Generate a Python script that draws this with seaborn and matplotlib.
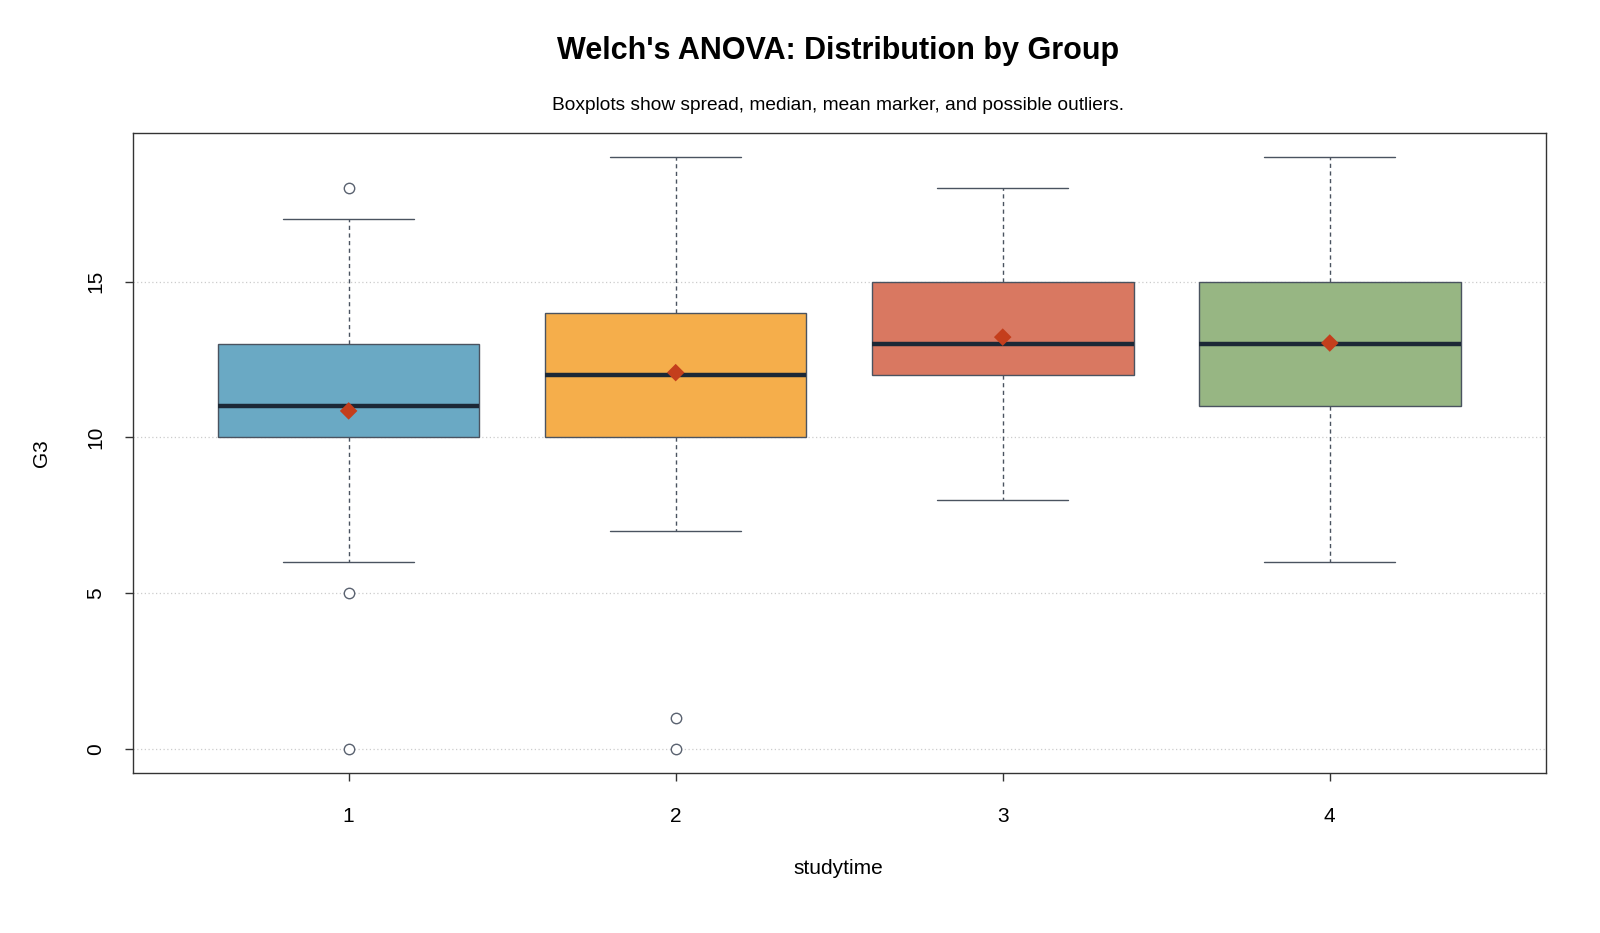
import matplotlib
matplotlib.use("Agg")
import matplotlib.pyplot as plt
import seaborn as sns

# summary stats, one entry per studytime group
groups = ["1", "2", "3", "4"]
q1 = [10, 10, 12, 11]
medians = [11, 12, 13, 13]
q3 = [13, 14, 15, 15]
whisk_lo = [6, 7, 8, 6]
whisk_hi = [17, 19, 18, 19]
means = [10.85, 12.08, 13.22, 13.03]
outliers = [[18, 5, 0], [1, 0], [], []]
colors = ["#6AA9C4", "#F5AE4B", "#D97861", "#97B683"]


def main():
    sns.set_theme(style="white")
    plt.rcParams["font.family"] = ["Liberation Sans", "DejaVu Sans"]
    plt.rcParams["text.color"] = "black"
    plt.rcParams["xtick.color"] = "black"
    plt.rcParams["ytick.color"] = "black"

    fig = plt.figure(figsize=(16, 9.33), dpi=100)
    ax = fig.add_axes([0.083, 0.172, 0.883, 0.685])

    stats = []
    for i, g in enumerate(groups):
        stats.append(dict(label=g, q1=q1[i], med=medians[i], q3=q3[i],
                          whislo=whisk_lo[i], whishi=whisk_hi[i],
                          mean=means[i], fliers=outliers[i]))

    edge = "#4A5360"
    bp = ax.bxp(stats, positions=range(len(groups)), widths=0.8,
                patch_artist=True, showmeans=False,
                boxprops=dict(edgecolor=edge, linewidth=1),
                whiskerprops=dict(color=edge, linewidth=1, linestyle=(0, (3, 2.5))),
                capprops=dict(color=edge, linewidth=1),
                capwidths=0.4,
                medianprops=dict(color="#1C2836", linewidth=3.2),
                flierprops=dict(marker="o", markerfacecolor="white",
                                markeredgecolor="#5A6270", markersize=7.5,
                                markeredgewidth=1))
    for patch, c in zip(bp["boxes"], colors):
        patch.set_facecolor(c)
        patch.set_zorder(2)

    sns.scatterplot(x=list(range(len(groups))), y=means, marker="D",
                    color="#C43E1C", s=80, edgecolor="none", zorder=5, ax=ax)

    ax.set_xlim(-0.66, 3.66)
    ax.set_ylim(-0.76, 19.76)
    ax.set_yticks([0, 5, 10, 15])
    ax.set_xticks(range(len(groups)))
    ax.set_xticklabels(groups)
    ax.yaxis.grid(True, linestyle=(0, (1, 2)), color="#CCCCCC", linewidth=0.9)
    ax.set_axisbelow(True)

    for s in ax.spines.values():
        s.set_color("#333333")
        s.set_linewidth(1)
    ax.tick_params(axis="both", length=6, width=1, color="#333333",
                   labelsize=15, labelcolor="black", direction="out",
                   bottom=True, left=True)
    ax.tick_params(axis="x", pad=19)
    ax.tick_params(axis="y", pad=14)
    for lab in ax.get_yticklabels():
        lab.set_rotation(90)
        lab.set_va("center")

    ax.set_xlabel("")
    ax.set_ylabel("")
    fig.text(0.524, 0.069, "studytime", ha="center", va="center", fontsize=15)
    fig.text(0.026, 0.514, "G3", ha="center", va="center", fontsize=15, rotation=90)
    fig.text(0.524, 0.945, "Welch's ANOVA: Distribution by Group", ha="center",
             va="center", fontsize=22, fontweight="bold")
    fig.text(0.524, 0.887, "Boxplots show spread, median, mean marker, and possible outliers.",
             ha="center", va="center", fontsize=13.8)

    fig.savefig("out.png", dpi=100)


if __name__ == "__main__":
    main()
